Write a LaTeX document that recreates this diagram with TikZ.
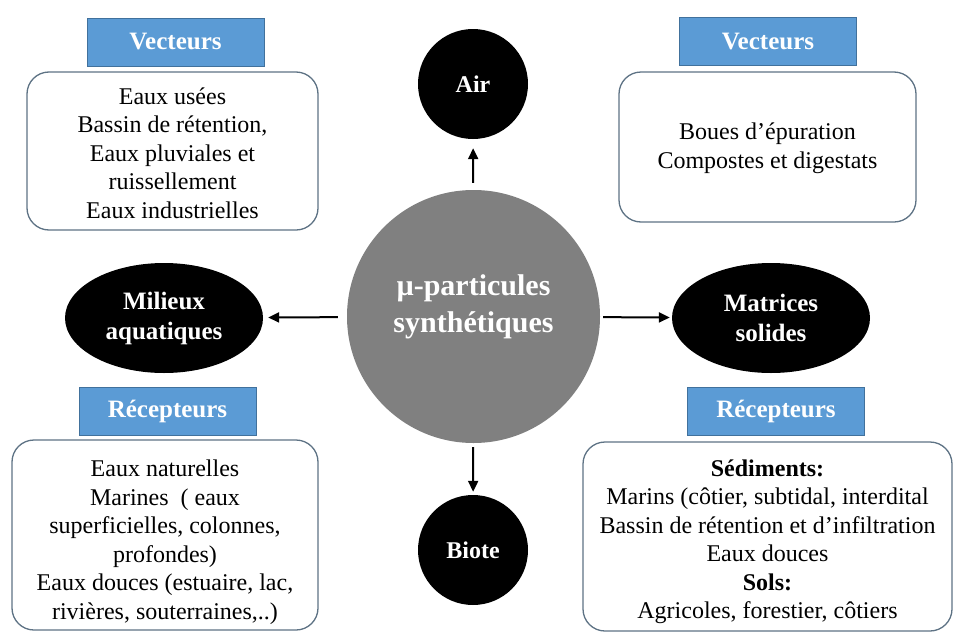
\documentclass[tikz,border=0pt]{standalone}
\usepackage{fontspec}
\setmainfont{Liberation Serif}
\usepackage{xcolor}
\usetikzlibrary{arrows.meta,shapes.geometric}
\definecolor{LabelBlue}{HTML}{5B9BD5}
\definecolor{LabelEdge}{HTML}{41719C}
\definecolor{BoxEdge}{HTML}{5E7385}
\definecolor{CoreGray}{HTML}{808080}
\tikzset{
  mplabel/.style={draw=LabelEdge, fill=LabelBlue, text=white, inner sep=0pt, minimum width=177pt, minimum height=48pt, font=\fontsize{25}{28}\selectfont\bfseries},
  mpbox/.style={draw=BoxEdge, line width=1.3pt, rounded corners=22pt, inner sep=0pt},
  mptext/.style={align=center, inner sep=0pt, font=\fontsize{24}{28.5}\selectfont},
  mpdark/.style={fill=black, text=white, align=center, inner sep=0pt, font=\fontsize{24}{30}\selectfont\bfseries},
  mpcore/.style={circle, fill=CoreGray, minimum size=253pt, inner sep=0pt},
  mparrow/.style={-{Triangle[length=11pt,width=10pt]}, line width=2pt, draw=black}
}

\begin{document}
\begin{tikzpicture}[x=1pt,y=-1pt]
  \useasboundingbox[fill=white] (0,0) rectangle (953,632);
  \node[mpcore] (core) at (473.5,316.5) {};
  \node[mptext, text=white, font=\fontsize{30}{37}\selectfont\bfseries] (coreText) at (core.center) [yshift=10pt] {µ-particules\\synthétiques};
  \node[mpdark, circle, minimum size=110pt] (air) at (473,84) {Air};
  \node[mpdark, circle, minimum size=110pt] (biote) at (473,550) {Biote};
  \node[mpdark, ellipse, minimum width=198pt, minimum height=110pt, font=\fontsize{25}{30}\selectfont\bfseries] (aqua) at (164,318) {Milieux\\aquatiques};
  \node[mpdark, ellipse, minimum width=198pt, minimum height=110pt, font=\fontsize{25}{30}\selectfont\bfseries] (solid) at (771,318) {Matrices\\solides};
  \draw[mparrow, shorten <=7pt, shorten >=9pt] (core) -- (air);
  \draw[mparrow, shorten <=4pt, shorten >=3pt] (core) -- (biote);
  \draw[mparrow, shorten <=9pt, shorten >=5pt] (core) -- (aqua);
  \draw[mparrow, shorten <=3pt, shorten >=2pt] (core) -- (solid);

  \node[mplabel] (vecLeft) at (175.5,42) {Vecteurs};
  \node[mpbox, minimum width=291pt, minimum height=158pt] (vecLeftBox) at (172.5,151) {};
  \node[mptext] (vecLeftText) at (vecLeftBox.center) [yshift=-2pt] {Eaux usées\\Bassin de rétention,\\Eaux pluviales et\\ruissellement\\Eaux industrielles};

  \node[mplabel] (vecRight) at (768,41.5) {Vecteurs};
  \node[mpbox, minimum width=297pt, minimum height=150pt] (vecRightBox) at (767.5,147) {};
  \node[mptext] (vecRightText) at (vecRightBox.center) [yshift=-1pt] {Boues d’épuration\\Compostes et digestats};

  \node[mplabel] (recLeft) at (167.5,411) {Récepteurs};
  \node[mpbox, minimum width=306pt, minimum height=190pt] (recLeftBox) at (165,535) {};
  \node[mptext] (recLeftText) at (recLeftBox.center) [yshift=-7pt] {Eaux naturelles\\Marines~ ( eaux\\superficielles, colonnes,\\profondes)\\Eaux douces (estuaire, lac,\\rivières, souterraines,..)};

  \node[mplabel] (recRight) at (776,411) {Récepteurs};
  \node[mpbox, minimum width=369pt, minimum height=189pt] (recRightBox) at (767.5,536.5) {};
  \node[mptext] (recRightText) at (recRightBox.center) [yshift=-5pt] {\textbf{Sédiments:}\\Marins (côtier, subtidal, interdital\\Bassin de rétention et d’infiltration\\Eaux douces\\\textbf{Sols:}\\Agricoles, forestier, côtiers};
\end{tikzpicture}
\end{document}
